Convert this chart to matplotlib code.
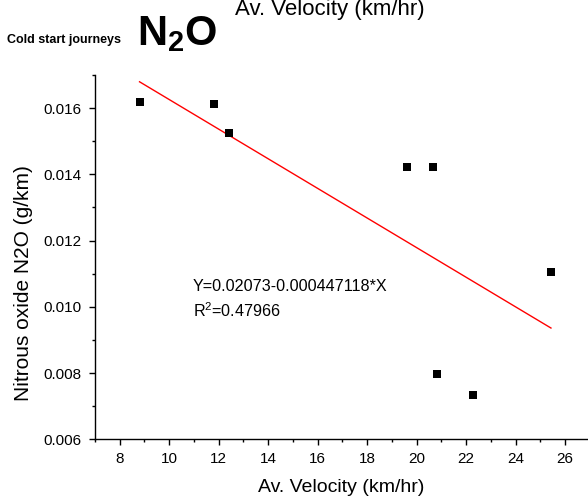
import matplotlib
matplotlib.use("Agg")
import matplotlib.pyplot as plt
import numpy as np
from matplotlib.ticker import MultipleLocator, FormatStrFormatter

plt.rcParams['font.family'] = ['Liberation Sans', 'DejaVu Sans']
plt.rcParams['mathtext.fontset'] = 'custom'
plt.rcParams['mathtext.rm'] = 'Liberation Sans:bold'
plt.rcParams['mathtext.bf'] = 'Liberation Sans:bold'

# Data
velocity = [8.8, 11.8, 12.42, 19.6, 20.66, 25.43, 20.83, 22.29]
n2o = [0.01619, 0.01613, 0.01524, 0.01422, 0.01422, 0.01105, 0.00797, 0.00734]
fit_intercept = 0.02073
fit_slope = -0.000447118
r_squared = 0.47966

fig = plt.figure(figsize=(5.88, 5.0), dpi=100)
ax = fig.add_axes([95/588, 60.7/500, 494.8/588, 364.3/500])

ax.scatter(velocity, n2o, marker='s', s=40, color='black', zorder=3, linewidths=0)
xf = np.array([min(velocity), max(velocity)])
ax.plot(xf, fit_intercept + fit_slope*xf, color='red', lw=1.0)

ax.set_xlim(7, 27)
ax.set_ylim(0.006, 0.017)
ax.xaxis.set_major_locator(MultipleLocator(2))
ax.xaxis.set_minor_locator(MultipleLocator(1))
ax.yaxis.set_major_locator(MultipleLocator(0.002))
ax.yaxis.set_minor_locator(MultipleLocator(0.001))
ax.yaxis.set_major_formatter(FormatStrFormatter('%.3f'))
ax.set_xticks(np.arange(8, 27, 2))

for s in ['top', 'right']:
    ax.spines[s].set_visible(False)
for s in ['left', 'bottom']:
    ax.spines[s].set_linewidth(1.0)
ax.tick_params(which='major', direction='out', length=4.5, width=1.0, labelsize=11, pad=5)
ax.tick_params(which='minor', direction='out', length=2.3, width=1.0)

ax.text(10.96, 0.01048, 'Y=0.02073-0.000447118*X', fontsize=11.6, va='baseline', ha='left')
ax.text(10.96, 0.009695, 'R$\\mathregular{^2}$=%.5f' % r_squared, fontsize=11.6, va='baseline', ha='left')

fig.text(341.5/588, 1-492/500, 'Av. Velocity (km/hr)', fontsize=14, ha='center', va='baseline')
fig.text(24/588, 1-283.5/500, 'Nitrous oxide N2O (g/km)', fontsize=15, rotation=90, ha='center', va='center')
fig.text(329.5/588, 1-15/500, 'Av. Velocity (km/hr)', fontsize=16, ha='center', va='baseline')
fig.text(7/588, 1-43/500, 'Cold start journeys', fontsize=9, fontweight='bold', ha='left', va='baseline')
fig.text(137/588, 1-45/500, 'N$_\\mathbf{2}$O', fontsize=30, fontweight='bold', ha='left', va='baseline')

fig.savefig('out.png', dpi=100)
